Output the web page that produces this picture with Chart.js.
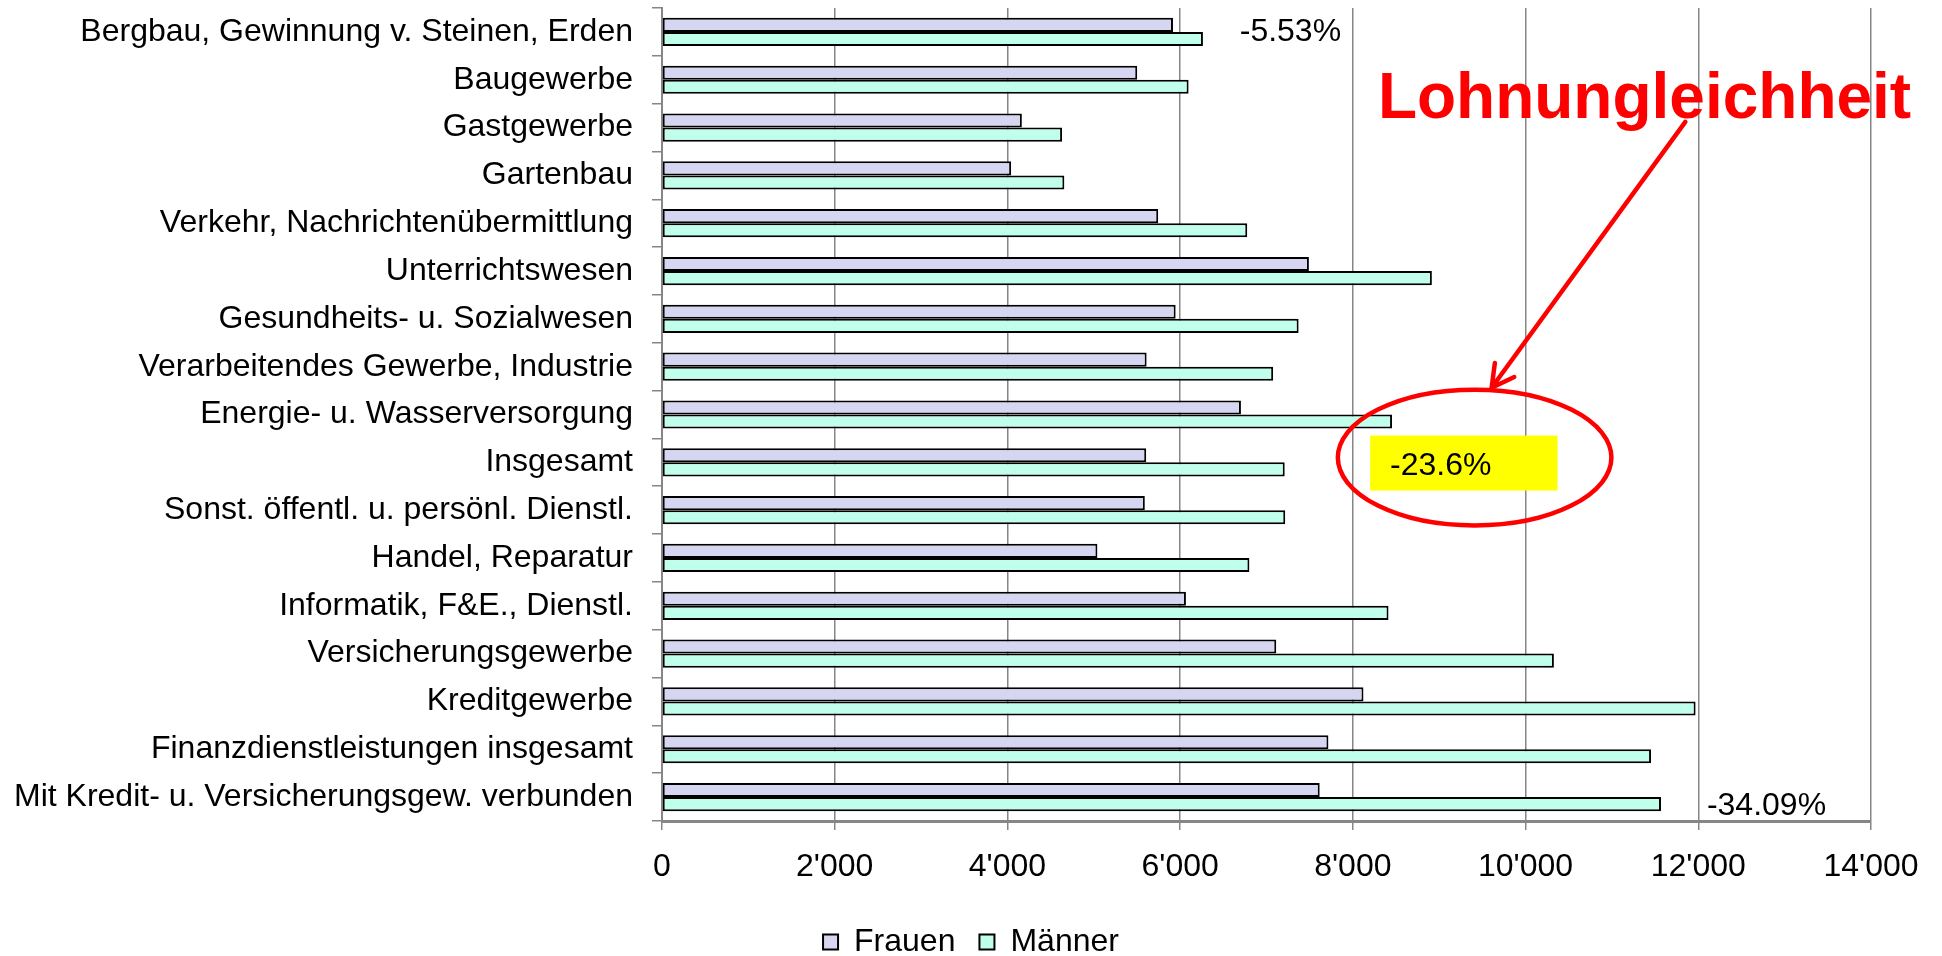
<!DOCTYPE html>
<html lang="de">
<head>
<meta charset="UTF-8">
<title>Lohnungleichheit</title>
<script src="https://cdn.jsdelivr.net/npm/chart.js"></script>
<style>
  html, body { margin: 0; padding: 0; background: #fff; }
  #wrap { width: 1942px; height: 956px; }
</style>
</head>
<body>
<div id="wrap"><canvas id="chart"></canvas></div>
<script>
const branchen = [
  'Bergbau, Gewinnung v. Steinen, Erden',
  'Baugewerbe',
  'Gastgewerbe',
  'Gartenbau',
  'Verkehr, Nachrichtenübermittlung',
  'Unterrichtswesen',
  'Gesundheits- u. Sozialwesen',
  'Verarbeitendes Gewerbe, Industrie',
  'Energie- u. Wasserversorgung',
  'Insgesamt',
  'Sonst. öffentl. u. persönl. Dienstl.',
  'Handel, Reparatur',
  'Informatik, F&E., Dienstl.',
  'Versicherungsgewerbe',
  'Kreditgewerbe',
  'Finanzdienstleistungen insgesamt',
  'Mit Kredit- u. Versicherungsgew. verbunden'
];
const frauen = [5917, 5503, 4167, 4043, 5746, 7491, 5948, 5612, 6704, 5607, 5591, 5042, 6067, 7113, 8123, 7717, 7616];
const maenner = [6264, 6098, 4633, 4659, 6777, 8915, 7372, 7077, 8454, 7211, 7217, 6802, 8413, 10328, 11969, 11453, 11568];
const xTicks = [0, 2000, 4000, 6000, 8000, 10000, 12000, 14000];

// Differenzen, die im Bild notiert sind
const gapLabels = ['-5.53%', '-23.6%', '-34.09%'];
const titel = 'Lohnungleichheit';

const FONT = '"Liberation Sans", Arial, sans-serif';
const GRID = '#868686';

function fmt(v) {
  return String(v).replace(/\B(?=(\d{3})+(?!\d))/g, "'");
}

// Anmerkungen in Daten-Koordinaten (x = Wert, y = Kategorie-Index)
const notes = {
  top:    { x: 6690, y: 0.0 },
  bottom: { x: 12100, y: 16.2 },
  box:    { x0: 8200, x1: 10370, y0: 8.44, y1: 9.59, tx: 8430, ty: 9.09 },
  ellipse:{ cx: 9410, cy: 8.9, rx: 1584, ry: 1.42 },
  arrow:  { x0: 11850, y0: 1.88, x1: 9607, y1: 7.44 },
  title:  { x: 8290, y: 1.8 }
};

const annotations = {
  id: 'annotations',
  afterDatasetsDraw(chart) {
    const ctx = chart.ctx;
    const xs = chart.scales.x, ys = chart.scales.y;
    const px = v => xs.getPixelForValue(v);
    const py = v => ys.getPixelForValue(v);
    ctx.save();

    ctx.fillStyle = '#000';
    ctx.font = '32px ' + FONT;
    ctx.textBaseline = 'middle';
    ctx.textAlign = 'left';
    ctx.fillText(gapLabels[0], px(notes.top.x), py(notes.top.y));
    ctx.fillText(gapLabels[2], px(notes.bottom.x), py(notes.bottom.y));

    // gelbes Feld
    const b = notes.box;
    ctx.fillStyle = '#ffff00';
    ctx.fillRect(px(b.x0), py(b.y0), px(b.x1) - px(b.x0), py(b.y1) - py(b.y0));
    ctx.fillStyle = '#000';
    ctx.fillText(gapLabels[1], px(b.tx), py(b.ty));

    // roter Kreis
    const e = notes.ellipse;
    ctx.strokeStyle = '#ff0000';
    ctx.lineWidth = 4.5;
    ctx.beginPath();
    ctx.ellipse(px(e.cx), py(e.cy), px(e.cx + e.rx) - px(e.cx), py(e.cy + e.ry) - py(e.cy), 0, 0, Math.PI * 2);
    ctx.stroke();

    // Pfeil
    const a = notes.arrow;
    const sx = px(a.x0), sy = py(a.y0), tx = px(a.x1), ty = py(a.y1);
    ctx.lineCap = 'round';
    ctx.beginPath();
    ctx.moveTo(sx, sy);
    ctx.lineTo(tx, ty);
    const ang = Math.atan2(sy - ty, sx - tx);
    const len = 25, spread = 0.5;
    ctx.moveTo(tx + len * Math.cos(ang - spread), ty + len * Math.sin(ang - spread));
    ctx.lineTo(tx, ty);
    ctx.lineTo(tx + len * Math.cos(ang + spread), ty + len * Math.sin(ang + spread));
    ctx.stroke();

    // Titel
    ctx.fillStyle = '#ff0000';
    ctx.font = 'bold 64px ' + FONT;
    ctx.textBaseline = 'alphabetic';
    ctx.fillText(titel, px(notes.title.x), py(notes.title.y));
    ctx.restore();
  }
};

new Chart(document.getElementById('chart'), {
  type: 'bar',
  data: {
    labels: branchen,
    datasets: [
      {
        label: 'Frauen',
        data: frauen,
        backgroundColor: '#d6d6f3',
        borderColor: '#000',
        borderWidth: 2,
        borderSkipped: false
      },
      {
        label: 'Männer',
        data: maenner,
        backgroundColor: '#bfffeb',
        borderColor: '#000',
        borderWidth: 2,
        borderSkipped: false
      }
    ]
  },
  options: {
    indexAxis: 'y',
    responsive: true,
    maintainAspectRatio: false,
    animation: false,
    categoryPercentage: 0.59,
    barPercentage: 1.0,
    layout: { padding: { top: 8, right: 0, left: 0, bottom: -12 } },
    scales: {
      x: {
        min: 0,
        max: 14000,
        afterBuildTicks: s => { s.ticks = xTicks.map(v => ({ value: v })); },
        afterFit: s => { s.height = 81; s.paddingRight = 71; },
        ticks: {
          color: '#000',
          font: { family: FONT, size: 32 },
          padding: 18,
          maxRotation: 0,
          callback: v => fmt(v)
        },
        grid: { color: GRID, lineWidth: 1.5, tickLength: 9 },
        border: { color: GRID, width: 3 }
      },
      y: {
        afterFit: s => { s.width = 662; s.paddingTop = 0; s.paddingBottom = 0; },
        ticks: {
          color: '#000',
          font: { family: FONT, size: 32 },
          padding: 19,
          autoSkip: false
        },
        grid: { drawOnChartArea: false, color: GRID, lineWidth: 1.5, tickLength: 10 },
        border: { color: GRID, width: 2 }
      }
    },
    plugins: {
      legend: {
        position: 'bottom',
        labels: {
          color: '#000',
          font: { family: FONT, size: 32 },
          boxWidth: 15,
          boxHeight: 15,
          padding: 24
        }
      },
      tooltip: { enabled: false }
    }
  },
  plugins: [annotations]
});
</script>
</body>
</html>
